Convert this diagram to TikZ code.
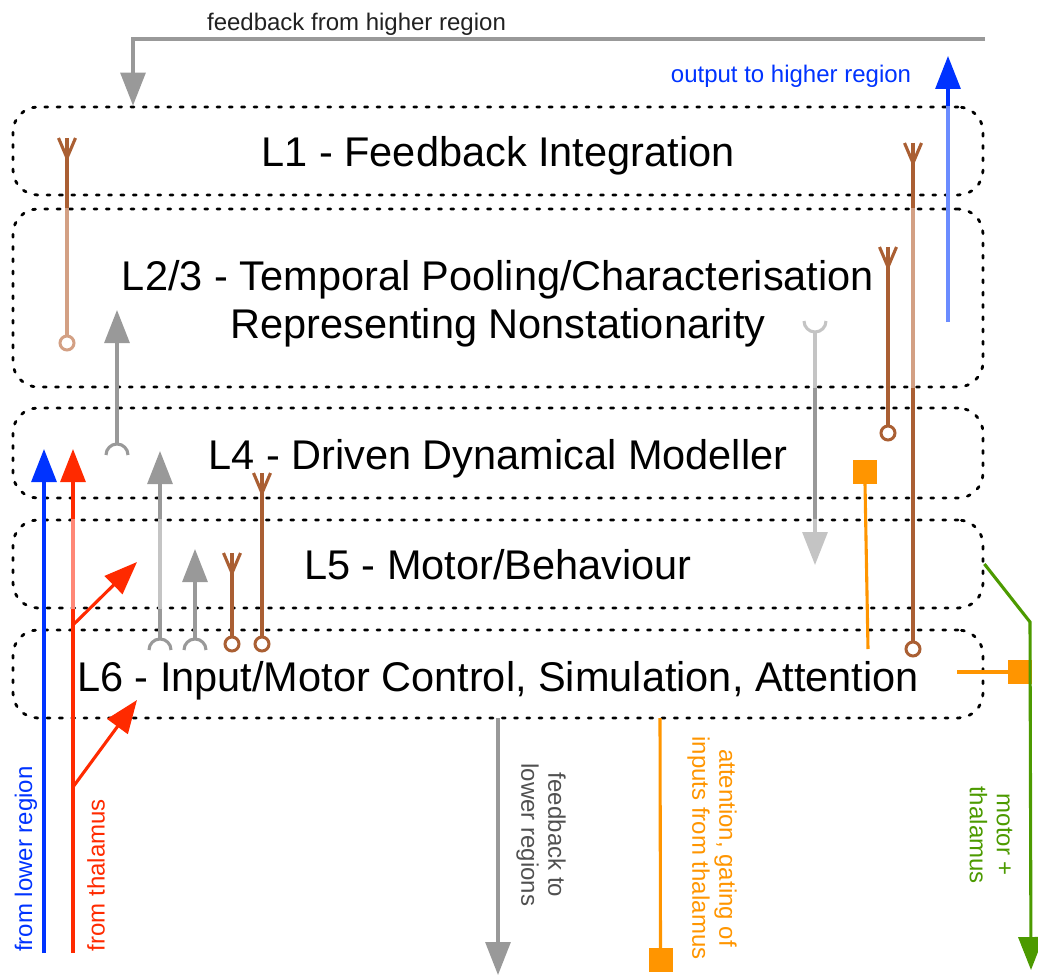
\documentclass[tikz,border=0pt]{standalone}
\usepackage{fontspec}
\setmainfont{Liberation Sans}
\usetikzlibrary{arrows.meta}
\definecolor{cgray}{HTML}{999999}
\definecolor{clgray}{HTML}{C4C4C4}
\definecolor{cblue}{HTML}{0033FF}
\definecolor{clblue}{HTML}{6B8CFF}
\definecolor{cred}{HTML}{FF2A00}
\definecolor{clred}{HTML}{FF8877}
\definecolor{cbrown}{HTML}{AA5F33}
\definecolor{ctan}{HTML}{D3A084}
\definecolor{corange}{HTML}{FF9500}
\definecolor{cgreen}{HTML}{4C9A00}
\definecolor{ctext}{HTML}{505050}
\tikzset{
  layerbox/.style={draw=black, line width=2.8pt, line cap=round, dash pattern=on 3pt off 9.3pt,
    rounded corners=25pt, minimum width=970pt, inner sep=0pt},
  wire/.style={line width=3.1pt},
  arr/.style={-{Triangle[length=33pt,width=25pt]}},
  maintext/.style={font=\fontsize{41.5}{48}\selectfont, anchor=base, inner sep=0pt},
  smalltext/.style={font=\fontsize{24}{27}\selectfont, inner sep=0pt},
  soma/.style={circle, draw, fill=white, line width=3pt, minimum size=14pt, inner sep=0pt},
  sq/.style={rectangle, fill=corange, minimum size=24pt, inner sep=0pt},
}
\begin{document}
\begin{tikzpicture}[x=1pt,y=-1pt,line join=miter]
\useasboundingbox (0,0) rectangle (1038,976);

% layer boxes
\node[layerbox, minimum height=88pt]  (L1)  at (498,151) {};
\node[layerbox, minimum height=178pt] (L23) at (498,298) {};
\node[layerbox, minimum height=90pt]  (L4)  at (498,453) {};
\node[layerbox, minimum height=88pt]  (L5)  at (498,564) {};
\node[layerbox, minimum height=88pt]  (L6)  at (498,674) {};

% layer titles
\node[maintext] (t1)  at (498,167) {L1 - Feedback Integration};
\node[maintext] (t23a) at (498,290) {L2/3 - Temporal Pooling/Characterisation};
\node[maintext] (t23b) at (498,338) {Representing Nonstationarity};
\node[maintext] (t4)  at (498,469) {L4 - Driven Dynamical Modeller};
\node[maintext] (t5)  at (498,579) {L5 - Motor/Behaviour};
\node[maintext] (t6)  at (498,691) {L6 - Input/Motor Control, Simulation, Attention};

% feedback from higher region
\coordinate (fbS) at (985,39);
\coordinate (fbC) at (133,39);
\draw[cgray, wire, arr] (fbS) -- (fbC) -- (fbC |- L1.north);
\node[smalltext, anchor=base, text=black!87] (tfb) at (356.5,31) {feedback from higher region};

% output to higher region
\coordinate (oS) at (948,322);
\coordinate (oE) at (948,56);
\draw[clblue, wire] (oS) -- (oS |- L1.north);
\draw[cblue, wire, arr] (oS |- L1.north) -- (oE);
\node[smalltext, anchor=base, text=cblue] (tout) at (791,83) {output to higher region};

% brown cell, left, L1 -> L2/3
\coordinate (f67) at (67,138);
\node[soma, draw=ctan] (e67) at (67,343) {};
\draw[cbrown, wire] (f67) ++(-8.5,0) -- ++(8.5,20) -- ++(8.5,-20);
\draw[cbrown, wire] (f67) -- (f67 |- L23.north);
\draw[ctan, wire] (f67 |- L23.north) -- (e67.north);

% gray L4 -> L2/3
\coordinate (c117) at (117,455);
\coordinate (a117) at (117,310);
\draw[cgray, wire] (c117) ++(-11pt,0) arc[start angle=180, end angle=0, radius=11pt];
\draw[cgray, wire, arr] (c117) ++(0,-11) -- (a117);

% from lower region (blue)
\coordinate (b44s) at (44,953);
\coordinate (b44e) at (44,449);
\draw[cblue, wire, arr] (b44s) -- (b44e);
\node[smalltext, rotate=90, text=cblue] (tlow) at (26,859) {from lower region};

% from thalamus (red)
\coordinate (r73s) at (73,953);
\coordinate (r73e) at (73,449);
\draw[cred, wire] (r73s) -- (r73s |- L5.south);
\draw[clred, wire] (r73s |- L5.south) -- (r73s |- L5.north);
\draw[cred, wire, arr] (r73s |- L5.north) -- (r73e);
\coordinate (rb1) at (73,625);
\coordinate (rb1e) at (137,562);
\coordinate (rb2) at (73,787);
\coordinate (rb2e) at (137,700);
\draw[cred, wire, arr] (rb1) -- (rb1e);
\draw[cred, wire, arr] (rb2) -- (rb2e);
\node[smalltext, rotate=90, text=cred] (tthal) at (96,875) {from thalamus};

% gray L6 -> L4
\coordinate (c160) at (160,650);
\coordinate (a160) at (160,451);
\draw[cgray, wire] (c160) ++(-11pt,0) arc[start angle=180, end angle=0, radius=11pt];
\draw[cgray, wire] (c160) ++(0,-11) -- (c160 |- L5.south);
\draw[clgray, wire] (c160 |- L5.south) -- (c160 |- L5.north);
\draw[cgray, wire, arr] (c160 |- L5.north) -- (a160);

% gray L6 -> L5
\coordinate (c195) at (195,650);
\coordinate (a195) at (195,549);
\draw[cgray, wire] (c195) ++(-11pt,0) arc[start angle=180, end angle=0, radius=11pt];
\draw[cgray, wire, arr] (c195) ++(0,-11) -- (a195);

% brown cells L6 -> L5, L6 -> L4
\coordinate (f232) at (232,553);
\node[soma, draw=cbrown] (e232) at (232,644) {};
\draw[cbrown, wire] (f232) ++(-8.5,0) -- ++(8.5,20) -- ++(8.5,-20);
\draw[cbrown, wire] (f232) -- (e232.north);
\coordinate (f262) at (262,473);
\node[soma, draw=cbrown] (e262) at (262,644) {};
\draw[cbrown, wire] (f262) ++(-8.5,0) -- ++(8.5,20) -- ++(8.5,-20);
\draw[cbrown, wire] (f262) -- (e262.north);

% gray L2/3 -> L5
\coordinate (c815) at (815,321);
\coordinate (a815) at (815,565);
\draw[clgray, wire] (c815) ++(-11pt,0) arc[start angle=180, end angle=360, radius=11pt];
\draw[clgray, wire] (c815) ++(0,11) -- (c815 |- L23.south);
\draw[cgray, wire] (c815 |- L23.south) -- (c815 |- L5.north);
\draw[clgray, wire, arr] (c815 |- L5.north) -- (a815);

% brown cell L2/3 -> L4
\coordinate (f888) at (888,247);
\node[soma, draw=cbrown] (e888) at (888,433) {};
\draw[cbrown, wire] (f888) ++(-8.5,0) -- ++(8.5,20) -- ++(8.5,-20);
\draw[cbrown, wire] (f888) -- (e888.north);

% brown cell L1 -> L6
\coordinate (f913) at (913,143);
\node[soma, draw=cbrown] (e913) at (913,649) {};
\draw[cbrown, wire] (f913) ++(-8.5,0) -- ++(8.5,20) -- ++(8.5,-20);
\draw[cbrown, wire] (f913) -- (f913 |- L23.north);
\draw[ctan, wire] (f913 |- L23.north) -- (f913 |- L23.south);
\draw[cbrown, wire] (f913 |- L23.south) -- (e913.north);

% orange attention paths
\node[sq] (sq1) at (865,471.5) {};
\coordinate (o1e) at (868,649);
\draw[corange, wire] (sq1.south) -- (o1e);
\coordinate (o2s) at (957,672);
\node[sq] (sq2) at (1020,672) {};
\draw[corange, wire] (o2s) -- (sq2.west);
\coordinate (o3s) at (660,718);
\node[sq] (sq3) at (660.5,960) {};
\draw[corange, wire] (o3s) -- (sq3.north);
\node[smalltext, rotate=-90, align=center, text=corange] (tatt) at (712,848) {attention, gating of\\inputs from thalamus};

% motor + thalamus (green)
\coordinate (gC) at (1030,622);
\coordinate (gE) at (1031,970);
\draw[cgreen, wire, arr] (L5.east) -- (gC) -- (gE);
\node[smalltext, rotate=-90, align=center, text=cgreen] (tmot) at (991,835) {motor +\\thalamus};

% feedback to lower regions
\coordinate (fblS) at (498,718);
\coordinate (fblE) at (498,975);
\draw[cgray, wire, arr] (fblS) -- (fblE);
\node[smalltext, rotate=-90, align=center, text=ctext] (tfbl) at (541,835) {feedback to\\lower regions};

\end{tikzpicture}
\end{document}
